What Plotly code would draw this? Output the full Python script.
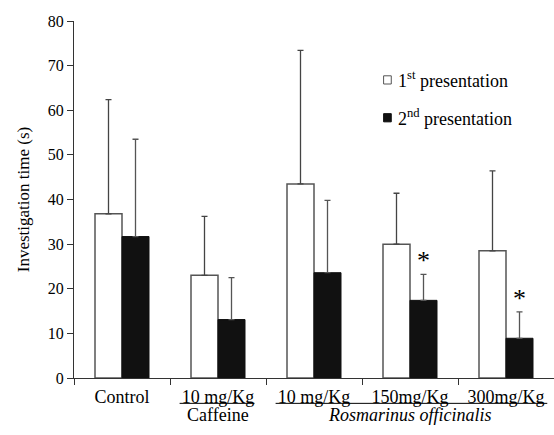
import plotly.graph_objects as go

categories = ["Control", "Caffeine 10", "Rosm 10", "Rosm 150", "Rosm 300"]
tick_labels = ["Control", "10 mg/Kg", "10 mg/Kg", "150mg/Kg", "300mg/Kg"]
first_vals = [36.8, 23.0, 43.5, 30.0, 28.5]
first_err = [25.6, 13.2, 29.9, 11.4, 17.9]
second_vals = [31.7, 13.1, 23.6, 17.4, 8.9]
second_err = [21.8, 9.4, 16.2, 5.8, 5.9]
significant = [False, False, False, True, True]
series_names = ["1<sup>st</sup> presentation", "2<sup>nd</sup> presentation"]

FONT = "Liberation Serif"

fig = go.Figure()
fig.add_trace(go.Bar(
    x=categories, y=first_vals, name=series_names[0],
    marker=dict(color="white", line=dict(color="#555555", width=1.5)),
    error_y=dict(type="data", array=first_err, arrayminus=[0]*5, symmetric=False,
                 color="#444444", thickness=1.3, width=3),
    showlegend=False,
))
fig.add_trace(go.Bar(
    x=categories, y=second_vals, name=series_names[1],
    marker=dict(color="#111111", line=dict(color="#111111", width=1)),
    error_y=dict(type="data", array=second_err, arrayminus=[0]*5, symmetric=False,
                 color="#555555", thickness=1.3, width=3),
    showlegend=False,
))

for i, sig in enumerate(significant):
    if sig:
        fig.add_annotation(x=i + 0.14, y=second_vals[i] + second_err[i], xref="x", yref="y",
                           text="*", showarrow=False, yanchor="bottom", yshift=-3,
                           font=dict(family=FONT, size=26, color="black"))

# manual legend
legend_fill = ["white", "#111111"]
legend_line = ["#555555", "#111111"]
legend_y = [0.835, 0.729]
for name, fc, lc, ly in zip(series_names, legend_fill, legend_line, legend_y):
    fig.add_shape(type="rect", xref="paper", yref="paper", x0=0.645, x1=0.661,
                  y0=ly - 0.0115, y1=ly + 0.0115, fillcolor=fc, line=dict(color=lc, width=1))
    fig.add_annotation(x=0.671, y=ly, xref="paper", yref="paper", text=name, showarrow=False,
                       xanchor="left", yanchor="middle",
                       font=dict(family=FONT, size=18, color="black"))

# second-line group labels
fig.add_annotation(x=1, y=-0.105, xref="x", yref="paper", text="Caffeine", showarrow=False,
                   yanchor="middle", font=dict(family=FONT, size=18, color="black"))
fig.add_annotation(x=3, y=-0.105, xref="x", yref="paper", text="<i>Rosmarinus officinalis</i>",
                   showarrow=False, yanchor="middle", font=dict(family=FONT, size=18, color="black"))
fig.add_shape(type="line", xref="x", yref="paper", x0=0.6, x1=1.38, y0=-0.071, y1=-0.071,
              line=dict(color="black", width=1))
fig.add_shape(type="line", xref="x", yref="paper", x0=1.6, x1=4.43, y0=-0.071, y1=-0.071,
              line=dict(color="black", width=1))

fig.update_layout(
    width=554, height=435,
    margin=dict(l=74, r=0, t=21, b=57),
    paper_bgcolor="white", plot_bgcolor="white",
    barmode="group", bargap=0.4375, bargroupgap=0,
    font=dict(family=FONT, size=16, color="black"),
    showlegend=False,
    xaxis=dict(type="category", tickmode="array", tickvals=categories, ticktext=tick_labels,
               tickson="boundaries", ticks="outside", ticklen=6, tickcolor="#333",
               showline=True, linecolor="#333", linewidth=1, showgrid=False,
               tickfont=dict(family=FONT, size=18, color="black"), ticklabelstandoff=2,
               range=[-0.5, 4.5]),
    yaxis=dict(range=[0, 80], dtick=10, ticks="outside", ticklen=6, tickcolor="#333",
               showline=True, linecolor="#333", linewidth=1, showgrid=False, zeroline=False,
               tickfont=dict(family=FONT, size=16, color="black"),
               title=dict(text="Investigation time (s)", font=dict(family=FONT, size=17), standoff=13)),
)

fig.write_html("out.html")
